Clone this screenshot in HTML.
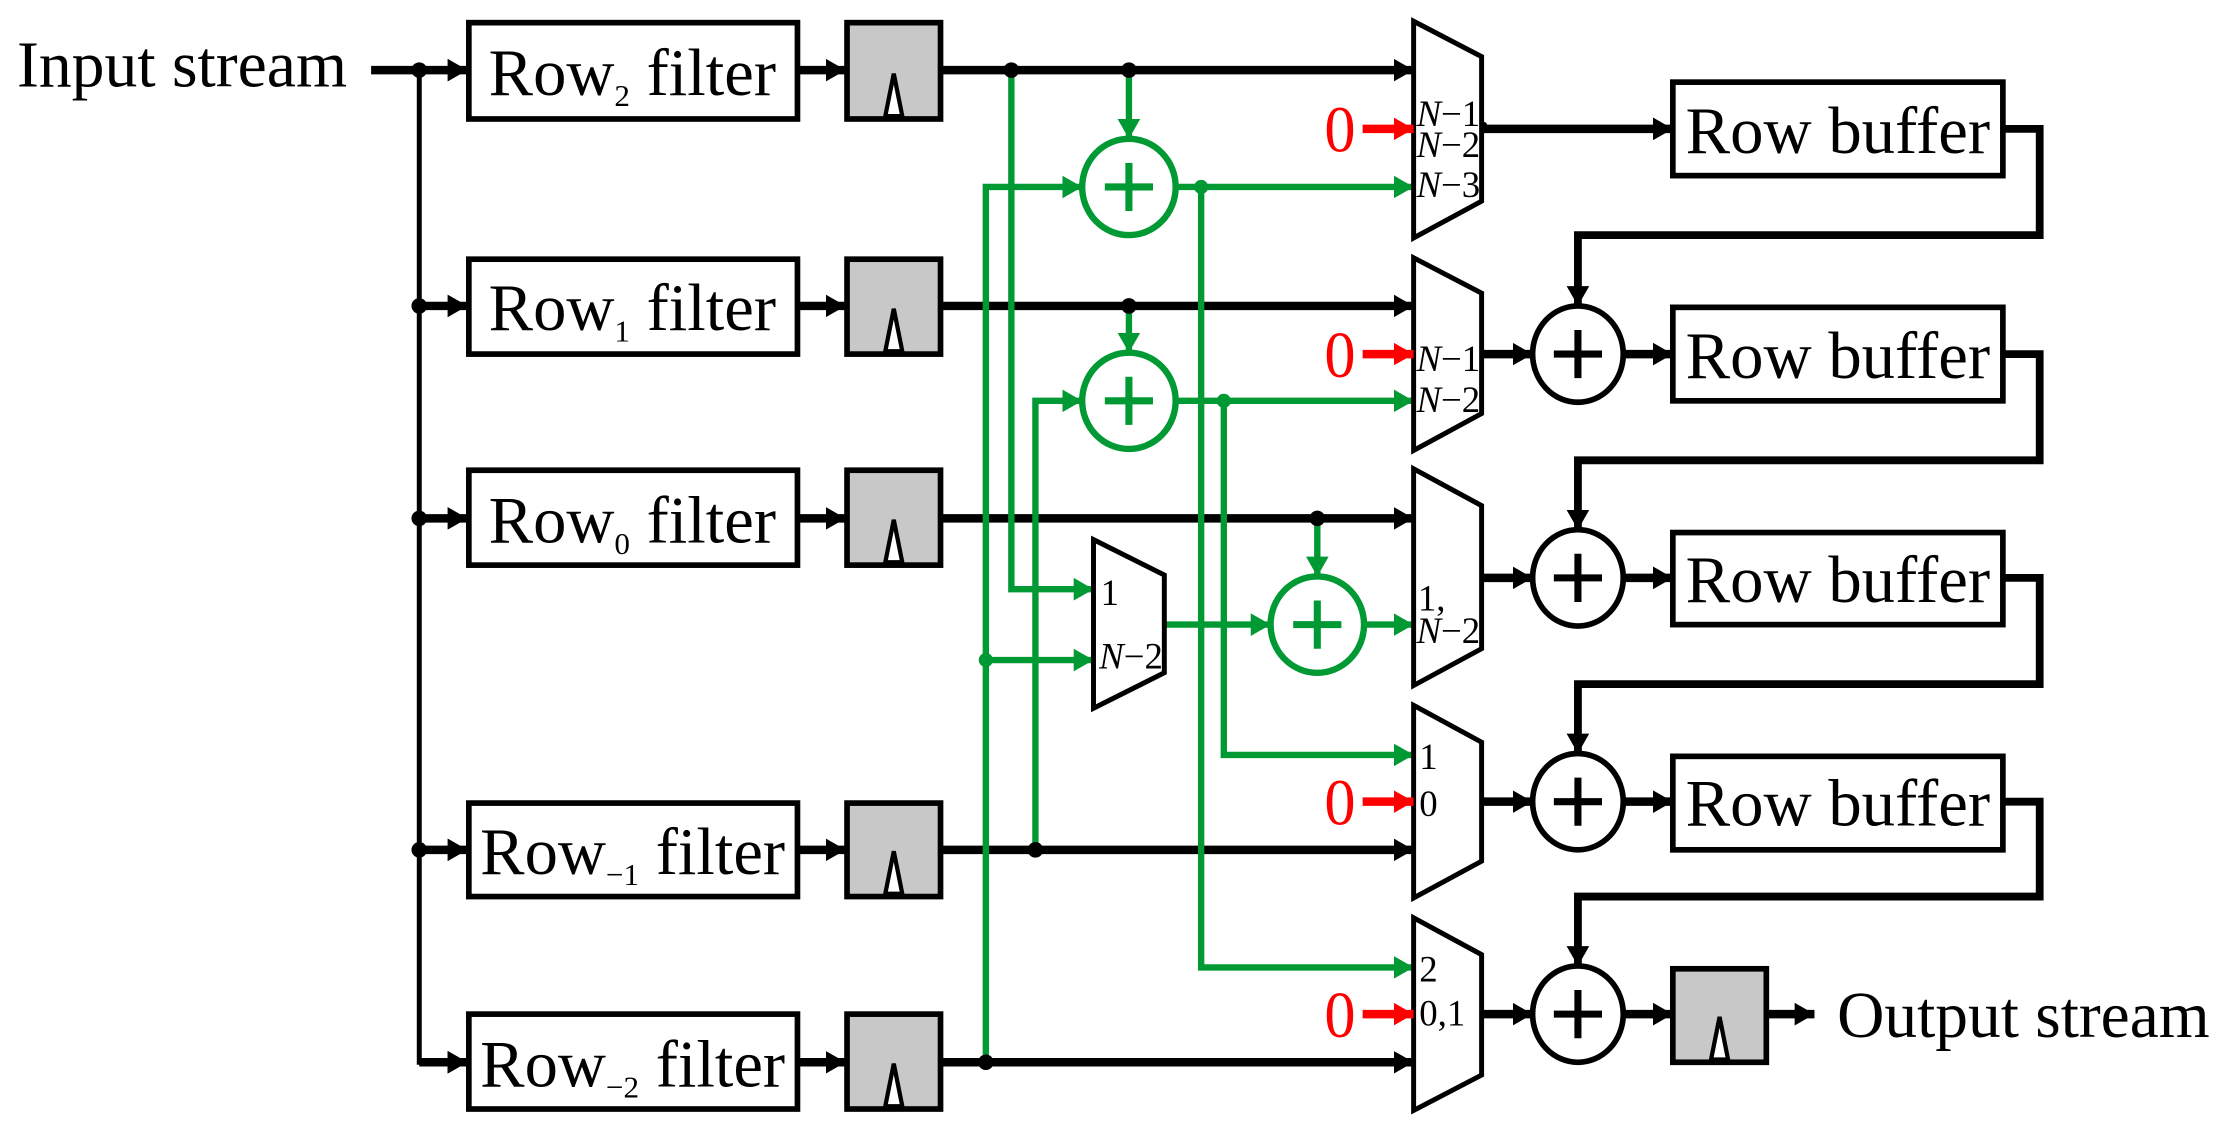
<!DOCTYPE html>
<html><head><meta charset="utf-8"><style>html,body{margin:0;padding:0;background:#fff}svg{display:block}text{font-family:"Liberation Serif",serif}</style></head><body>
<svg width="2221" height="1128" viewBox="0 0 1568 796.4" preserveAspectRatio="none" xmlns="http://www.w3.org/2000/svg">
<defs>
<marker id="ak" markerUnits="userSpaceOnUse" markerWidth="16" markerHeight="16" refX="14" refY="8" orient="auto"><path d="M0,0 L14,8 L0,16 z" fill="#000"/></marker>
<marker id="ag" markerUnits="userSpaceOnUse" markerWidth="16" markerHeight="16" refX="14" refY="8" orient="auto"><path d="M0,0 L14,8 L0,16 z" fill="#009933"/></marker>
<marker id="ar" markerUnits="userSpaceOnUse" markerWidth="16" markerHeight="16" refX="14" refY="8" orient="auto"><path d="M0,0 L14,8 L0,16 z" fill="#f00"/></marker>
</defs>
<g fill="none" stroke="#000">
<line x1="262" y1="49.5" x2="330" y2="49.5" stroke-width="6" marker-end="url(#ak)"/>
<polyline points="296,49.5 296,750 330,750" stroke-width="3.5" marker-end="url(#ak)"/>
<line x1="296" y1="216" x2="330" y2="216" stroke-width="6" marker-end="url(#ak)"/>
<line x1="296" y1="366" x2="330" y2="366" stroke-width="6" marker-end="url(#ak)"/>
<line x1="296" y1="600" x2="330" y2="600" stroke-width="6" marker-end="url(#ak)"/>
<line x1="296" y1="750" x2="330" y2="750" stroke-width="6" marker-end="url(#ak)"/>
<g stroke-width="4" fill="#fff">
<rect x="331" y="16" width="232" height="68"/>
<rect x="331" y="183" width="232" height="67"/>
<rect x="331" y="332" width="232" height="67"/>
<rect x="331" y="567" width="232" height="66"/>
<rect x="331" y="716" width="232" height="67"/>
</g>
<g stroke-width="6">
<line x1="563" y1="49.5" x2="597" y2="49.5" marker-end="url(#ak)"/>
<line x1="563" y1="216" x2="597" y2="216" marker-end="url(#ak)"/>
<line x1="563" y1="366" x2="597" y2="366" marker-end="url(#ak)"/>
<line x1="563" y1="600" x2="597" y2="600" marker-end="url(#ak)"/>
<line x1="563" y1="750" x2="597" y2="750" marker-end="url(#ak)"/>
</g>
<g stroke-width="4" fill="#c8c8c8">
<rect x="598" y="16" width="66" height="68"/>
<rect x="598" y="183" width="66" height="67"/>
<rect x="598" y="332" width="66" height="67"/>
<rect x="598" y="567" width="66" height="66"/>
<rect x="598" y="716" width="66" height="67"/>
<rect x="1181" y="684" width="66" height="66"/>
</g>
<g stroke-width="3" fill="#fff">
<polygon points="625,82 631,52 637,82"/>
<polygon points="625,248 631,218 637,248"/>
<polygon points="625,397 631,367 637,397"/>
<polygon points="625,631 631,601 637,631"/>
<polygon points="625,781 631,751 637,781"/>
<polygon points="1208,748 1214,718 1220,748"/>
</g>
<g stroke-width="6">
<line x1="664" y1="49.5" x2="998" y2="49.5" marker-end="url(#ak)"/>
<line x1="664" y1="216" x2="998" y2="216" marker-end="url(#ak)"/>
<line x1="664" y1="366" x2="998" y2="366" marker-end="url(#ak)"/>
<line x1="664" y1="600" x2="998" y2="600" marker-end="url(#ak)"/>
<line x1="664" y1="750" x2="998" y2="750" marker-end="url(#ak)"/>
</g>
</g>
<g fill="none" stroke="#009933" stroke-width="4.5">
<polyline points="714,49.5 714,416 772,416" marker-end="url(#ag)"/>
<line x1="797" y1="49.5" x2="797" y2="98" marker-end="url(#ag)"/>
<polyline points="696,750 696,132 764,132" marker-end="url(#ag)"/>
<line x1="696" y1="466" x2="772" y2="466" marker-end="url(#ag)"/>
<polyline points="731,600 731,283 764,283" marker-end="url(#ag)"/>
<line x1="797" y1="216" x2="797" y2="249" marker-end="url(#ag)"/>
<line x1="831" y1="132" x2="998" y2="132" marker-end="url(#ag)"/>
<polyline points="848,132 848,683 998,683" marker-end="url(#ag)"/>
<line x1="831" y1="283" x2="998" y2="283" marker-end="url(#ag)"/>
<polyline points="864,283 864,533 998,533" marker-end="url(#ag)"/>
<line x1="822" y1="441" x2="897" y2="441" marker-end="url(#ag)"/>
<line x1="930" y1="366" x2="930" y2="407" marker-end="url(#ag)"/>
<line x1="963" y1="441" x2="998" y2="441" marker-end="url(#ag)"/>
<g fill="#fff">
<ellipse cx="797" cy="132" rx="33" ry="34"/>
<ellipse cx="797" cy="283" rx="33" ry="34"/>
<ellipse cx="930" cy="441" rx="33" ry="34"/>
</g>
<path d="M780,132 h34 M797,115 v34 M780,283 h34 M797,266 v34 M913,441 h34 M930,424 v34" stroke-width="5"/>
</g>
<g fill="#009933">
<circle cx="848" cy="132" r="5"/><circle cx="864" cy="283" r="5"/>
<circle cx="696" cy="466" r="5"/>
</g>
<g fill="#000">
<circle cx="296" cy="49.5" r="5.5"/><circle cx="296" cy="216" r="5.5"/><circle cx="296" cy="366" r="5.5"/><circle cx="296" cy="600" r="5.5"/>
<circle cx="714" cy="49.5" r="5.5"/><circle cx="797" cy="49.5" r="5.5"/><circle cx="797" cy="216" r="5.5"/>
<circle cx="930" cy="366" r="5.5"/><circle cx="731" cy="600" r="5.5"/><circle cx="696" cy="750" r="5.5"/>
</g>
<g fill="#fff" stroke="#000" stroke-width="3.5">
<polygon points="998,15 1046,40 1046,142 998,168"/>
<polygon points="998,182 1046,207 1046,292 998,318"/>
<polygon points="998,331 1046,357 1046,458 998,484"/>
<polygon points="998,498 1046,524 1046,608 998,634"/>
<polygon points="998,648 1046,674 1046,759 998,784"/>
<polygon points="772,381 822,406 822,475 772,500"/>
</g>
<g stroke="#f00" stroke-width="6" fill="none">
<line x1="962" y1="91" x2="998" y2="91" marker-end="url(#ar)"/>
<line x1="962" y1="250" x2="998" y2="250" marker-end="url(#ar)"/>
<line x1="962" y1="566" x2="998" y2="566" marker-end="url(#ar)"/>
<line x1="962" y1="716" x2="998" y2="716" marker-end="url(#ar)"/>
</g>
<g fill="#f00" font-size="46">
<text x="935" y="107" textLength="22" lengthAdjust="spacingAndGlyphs">0</text><text x="935" y="266" textLength="22" lengthAdjust="spacingAndGlyphs">0</text><text x="935" y="582" textLength="22" lengthAdjust="spacingAndGlyphs">0</text><text x="935" y="732" textLength="22" lengthAdjust="spacingAndGlyphs">0</text>
</g>
<g fill="none" stroke="#000">
<g stroke-width="6">
<line x1="1046" y1="91" x2="1181" y2="91" marker-end="url(#ak)"/>
<line x1="1046" y1="250" x2="1082" y2="250" marker-end="url(#ak)"/>
<line x1="1046" y1="408" x2="1082" y2="408" marker-end="url(#ak)"/>
<line x1="1046" y1="566" x2="1082" y2="566" marker-end="url(#ak)"/>
<line x1="1046" y1="716" x2="1082" y2="716" marker-end="url(#ak)"/>
<line x1="1146" y1="250" x2="1181" y2="250" marker-end="url(#ak)"/>
<line x1="1146" y1="408" x2="1181" y2="408" marker-end="url(#ak)"/>
<line x1="1146" y1="566" x2="1181" y2="566" marker-end="url(#ak)"/>
<line x1="1146" y1="716" x2="1181" y2="716" marker-end="url(#ak)"/>
<line x1="1247" y1="716" x2="1281" y2="716" marker-end="url(#ak)"/>
</g>
<g stroke-width="5.5">
<polyline points="1415,91 1440,91 1440,166 1114,166 1114,216" marker-end="url(#ak)"/>
<polyline points="1415,250 1440,250 1440,325 1114,325 1114,374" marker-end="url(#ak)"/>
<polyline points="1415,408 1440,408 1440,483 1114,483 1114,532" marker-end="url(#ak)"/>
<polyline points="1415,566 1440,566 1440,633 1114,633 1114,682" marker-end="url(#ak)"/>
</g>
<g stroke-width="4" fill="#fff">
<rect x="1181" y="58" width="233" height="66"/>
<rect x="1181" y="217" width="233" height="66"/>
<rect x="1181" y="376" width="233" height="65"/>
<rect x="1181" y="534" width="233" height="66"/>
<ellipse cx="1114" cy="250" rx="32" ry="34"/>
<ellipse cx="1114" cy="408" rx="32" ry="34"/>
<ellipse cx="1114" cy="566" rx="32" ry="34"/>
<ellipse cx="1114" cy="716" rx="32" ry="34"/>
</g>
<path d="M1097,250 h34 M1114,233 v34 M1097,408 h34 M1114,391 v34 M1097,566 h34 M1114,549 v34 M1097,716 h34 M1114,699 v34" stroke-width="5"/>
</g>
<g fill="#000">
<text x="12" y="61" font-size="46" textLength="233" lengthAdjust="spacingAndGlyphs">Input stream</text>
<text x="1297" y="732" font-size="46" textLength="263" lengthAdjust="spacingAndGlyphs">Output stream</text>
<g font-size="47">
<text x="345" y="67">Row<tspan font-size="22" dy="8">2</tspan><tspan dy="-8"> filter</tspan></text>
<text x="345" y="233">Row<tspan font-size="22" dy="8">1</tspan><tspan dy="-8"> filter</tspan></text>
<text x="345" y="383">Row<tspan font-size="22" dy="8">0</tspan><tspan dy="-8"> filter</tspan></text>
<text x="339" y="617">Row<tspan font-size="22" dy="8">−1</tspan><tspan dy="-8"> filter</tspan></text>
<text x="339" y="767">Row<tspan font-size="22" dy="8">−2</tspan><tspan dy="-8"> filter</tspan></text>
<text x="1190" y="108" textLength="215" lengthAdjust="spacingAndGlyphs">Row buffer</text>
<text x="1190" y="267" textLength="215" lengthAdjust="spacingAndGlyphs">Row buffer</text>
<text x="1190" y="425" textLength="215" lengthAdjust="spacingAndGlyphs">Row buffer</text>
<text x="1190" y="583" textLength="215" lengthAdjust="spacingAndGlyphs">Row buffer</text>
</g>
<g font-size="26">
<text x="1000" y="89"><tspan font-style="italic">N</tspan>−1,</text>
<text x="1000" y="111"><tspan font-style="italic">N</tspan>−2</text>
<text x="1000" y="139"><tspan font-style="italic">N</tspan>−3</text>
<text x="1000" y="262"><tspan font-style="italic">N</tspan>−1</text>
<text x="1000" y="291"><tspan font-style="italic">N</tspan>−2</text>
<text x="1001" y="431">1,</text>
<text x="1000" y="454"><tspan font-style="italic">N</tspan>−2</text>
<text x="1002" y="543">1</text>
<text x="1002" y="576">0</text>
<text x="1002" y="693">2</text>
<text x="1002" y="724">0,1</text>
<text x="777" y="427">1</text>
<text x="776" y="472"><tspan font-style="italic">N</tspan>−2</text>
</g>
</g>
</svg>
</body></html>
